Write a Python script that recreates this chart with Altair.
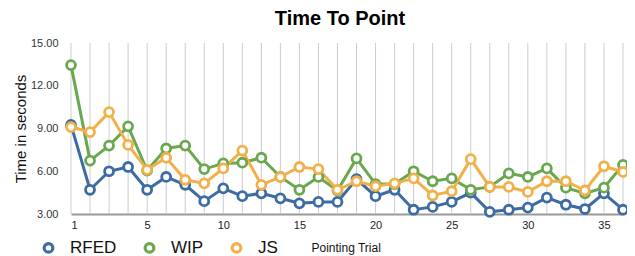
import altair as alt
import pandas as pd

trial_index = list(range(1, 31))
rfed = [9.25, 4.7, 6.0, 6.3, 4.7, 5.6, 5.05, 3.9, 4.8, 4.25, 4.45, 4.1, 3.75, 3.85, 3.85, 5.45,
        4.25, 4.7, 3.3, 3.5, 3.85, 4.5, 3.15, 3.3, 3.45, 4.15, 3.65, 3.35, 4.45, 3.3]
wip = [13.45, 6.75, 7.8, 9.15, 6.05, 7.6, 7.8, 6.15, 6.55, 6.6, 6.95, 5.6, 4.7, 5.6, 4.65, 6.9,
       5.1, 5.1, 6.0, 5.3, 5.5, 4.7, 4.9, 5.85, 5.6, 6.2, 4.85, 4.45, 4.85, 6.45]
js = [9.1, 8.75, 10.15, 7.85, 6.1, 6.95, 5.4, 5.15, 6.2, 7.45, 5.05, 5.6, 6.3, 6.15, 4.7, 5.3,
      4.95, 5.15, 5.5, 4.3, 4.6, 6.85, 4.9, 4.9, 4.55, 5.3, 5.3, 4.65, 6.35, 5.95]
series = ["RFED", "WIP", "JS"]
colors = ["#3d6ca3", "#6aa84f", "#f2b04a"]
y_ticks = [3, 6, 9, 12, 15]

rows = []
for name, vals in zip(series, [rfed, wip, js]):
    for i, v in zip(trial_index, vals):
        rows.append({"idx": i, "time": v, "series": name})
df = pd.DataFrame(rows)
grid_df = pd.DataFrame({"idx": trial_index})

color = alt.Color(
    "series:N",
    scale=alt.Scale(domain=series, range=colors),
    legend=alt.Legend(
        title=None, orient="none", direction="horizontal",
        legendX=-31, legendY=196,
        symbolType="circle", symbolSize=75, symbolStrokeWidth=3.2,
        symbolFillColor="white",
        labelFont="Liberation Sans", labelFontSize=17, labelColor="#111",
        labelOffset=13, columnPadding=21,
    ),
)

x = alt.X(
    "idx:Q",
    scale=alt.Scale(domain=[1, 30], nice=False, zero=False),
    axis=alt.Axis(
        values=trial_index,
        labelExpr="datum.value == 1 ? '1' : ((datum.value - 1) % 4 == 0 ? '' + ((datum.value - 1) / 4 * 5) : '')",
        grid=False,
        ticks=False, domainColor="#999999", domainWidth=2,
        labelFont="Liberation Sans", labelFontSize=11, labelColor="#222", labelPadding=5,
        title="Pointing Trial", titleFont="Liberation Sans", titleFontSize=12,
        titleFontWeight="normal", titleColor="#111",
        titleAnchor="start", titleX=240, titleY=33, titleBaseline="middle",
    ),
)
y = alt.Y(
    "time:Q",
    scale=alt.Scale(domain=[3, 15], nice=False, zero=False),
    axis=alt.Axis(
        values=y_ticks, format=".2f", grid=False, ticks=False, domain=False,
        labelFont="Liberation Sans", labelFontSize=11, labelColor="#333", labelPadding=13,
        title="Time in seconds", titleFont="Liberation Sans", titleFontSize=15,
        titleFontWeight="normal", titleColor="#111", titlePadding=2,
    ),
)

gridlines = alt.Chart(grid_df).mark_rule(color="#cccccc", strokeWidth=1).encode(
    x=alt.X("idx:Q"), y=alt.value(0), y2=alt.value(171)
)

base = alt.Chart(df)
lines = base.mark_line(strokeWidth=3).encode(x=x, y=y, color=color)
points = base.mark_point(shape="circle", filled=True, fill="white", size=80,
                         strokeWidth=2.8, opacity=1).encode(
    x="idx:Q", y="time:Q", stroke=alt.Stroke("series:N", scale=alt.Scale(domain=series, range=colors), legend=None)
)

chart = alt.layer(gridlines, lines, points).properties(
    width=552, height=171,
    autosize=alt.AutoSizeParams(type="none"),
    padding={"left": 63, "top": 35, "right": 4, "bottom": 46},
    title=alt.Title("Time To Point", font="Liberation Sans", fontSize=20, fontWeight="bold",
                    color="#000", anchor="middle", offset=8, dx=-7),
).configure_view(stroke=None)

chart.save("out.html", embed_options={"renderer": "svg", "actions": False})
